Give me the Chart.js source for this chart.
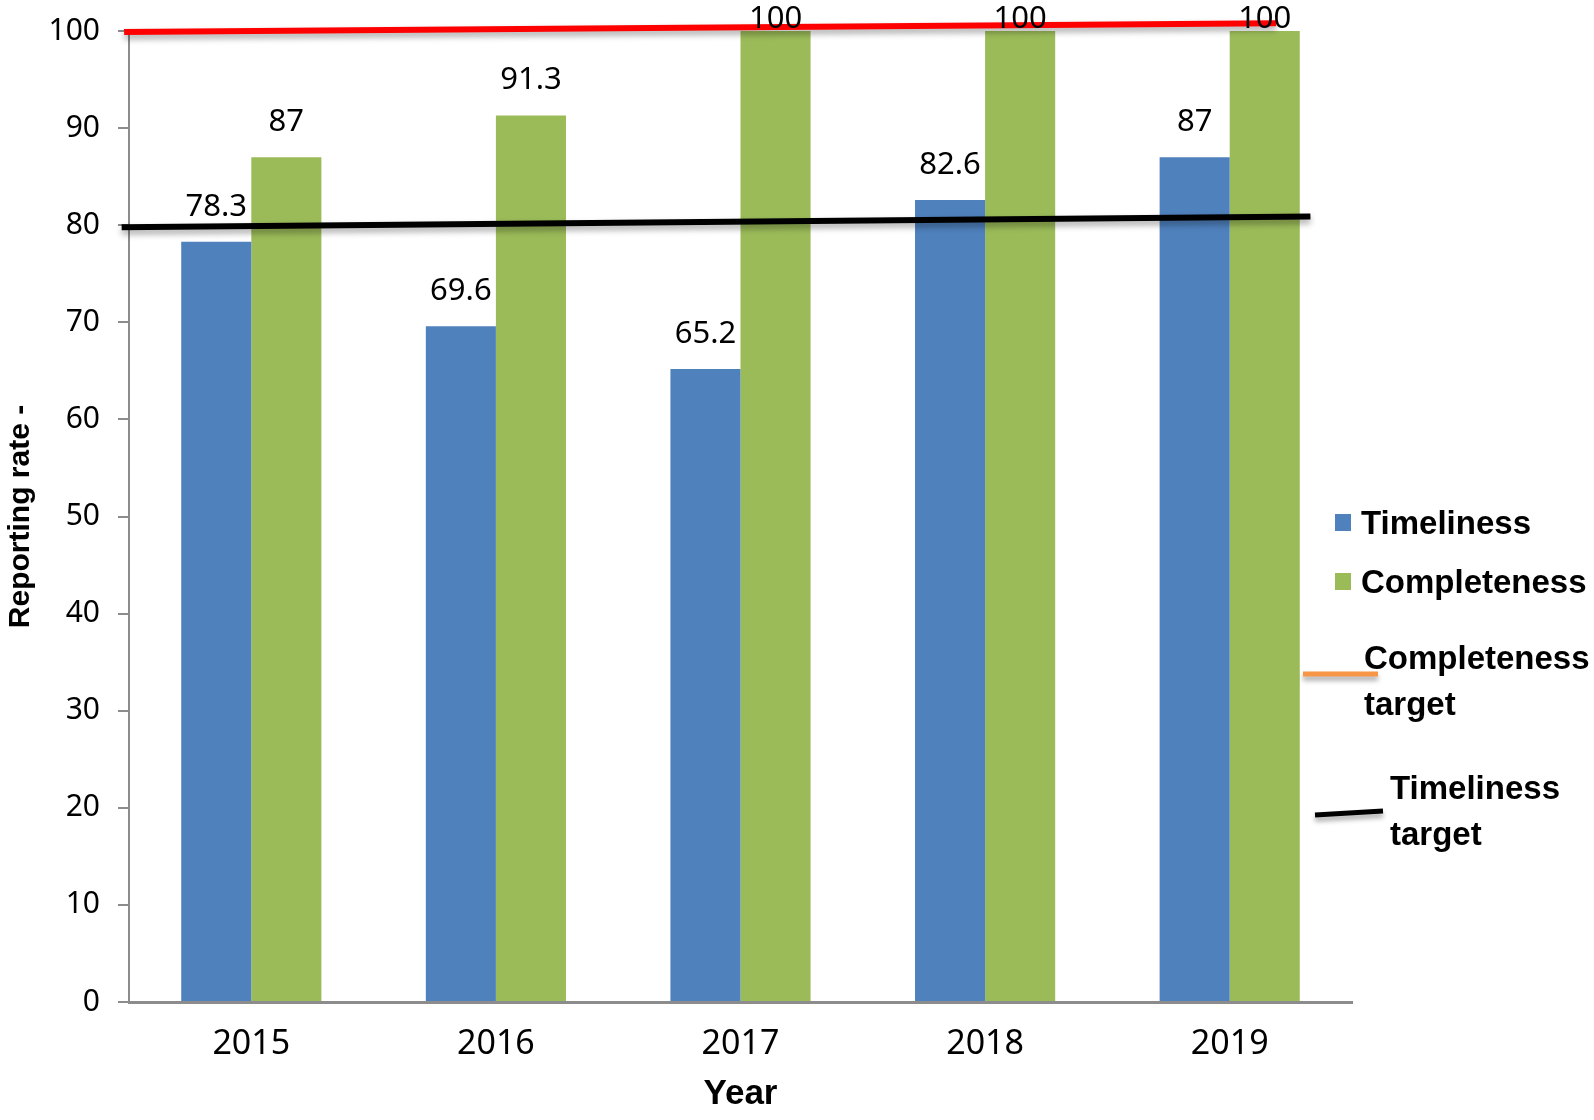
<!DOCTYPE html>
<html>
<head>
<meta charset="utf-8">
<script src="https://cdn.jsdelivr.net/npm/chart.js@4/dist/chart.umd.min.js"></script>
<style>
  html, body { margin: 0; padding: 0; background: #fff; }
  canvas { display: block; }
</style>
</head>
<body>
<canvas id="chart" width="1594" height="1120"></canvas>
<script>
// datos
const years = ['2015', '2016', '2017', '2018', '2019'];
const timeliness = [78.3, 69.6, 65.2, 82.6, 87];
const completeness = [87, 91.3, 100, 100, 100];
// líneas de meta dibujadas a mano (x en índice de año)
const completenessTarget = [{ x: -0.52, y: 99.9 }, { x: 4.19, y: 100.8 }];
const timelinessTarget = [{ x: -0.53, y: 79.8 }, { x: 4.33, y: 80.9 }];
const yTickValues = [0, 10, 20, 30, 40, 50, 60, 70, 80, 90, 100];

const numFont = '"Noto Sans", "Open Sans", sans-serif';
const boldFont = '"Liberation Sans", Arial, sans-serif';

// cada barra en la posición de su año
const toPoints = values => values.map((v, i) => ({ x: i, y: v }));

// etiquetas de valor encima de las barras
const valueLabels = {
  id: 'valueLabels',
  afterDatasetsDraw(chart) {
    const ctx = chart.ctx;
    ctx.save();
    ctx.font = '31px ' + numFont;
    ctx.fillStyle = '#000';
    ctx.textAlign = 'center';
    ctx.textBaseline = 'middle';
    chart.data.datasets.forEach((ds, i) => {
      if (ds.type === 'line') return;
      chart.getDatasetMeta(i).data.forEach((bar, j) => {
        const y = Math.max(bar.y - 35, 19);
        ctx.fillText(String(ds.data[j].y), bar.x, y);
      });
    });
    ctx.restore();
  }
};

// sombra de las líneas de meta
const lineShadow = {
  id: 'lineShadow',
  beforeDatasetDraw(chart, args) {
    if (args.meta.type !== 'line') return;
    const ctx = chart.ctx;
    ctx.save();
    ctx.shadowColor = 'rgba(0,0,0,0.35)';
    ctx.shadowBlur = 6;
    ctx.shadowOffsetY = 4;
  },
  afterDatasetDraw(chart, args) {
    if (args.meta.type !== 'line') return;
    chart.ctx.restore();
  }
};

// leyenda a la derecha, como en el original
const sideLegend = {
  id: 'sideLegend',
  afterDraw(chart) {
    const ctx = chart.ctx;
    const spots = [
      { box: [1335, 514], text: [1361, 522] },
      { box: [1335, 573], text: [1361, 581] },
      { line: [1303, 674, 1378, 674], text: [1364, 657], gap: 46 },
      { line: [1315, 815, 1383, 811], text: [1390, 787], gap: 46 }
    ];
    ctx.save();
    ctx.font = 'bold 33px ' + boldFont;
    ctx.fillStyle = '#000';
    ctx.textAlign = 'left';
    ctx.textBaseline = 'alphabetic';
    chart.data.datasets.forEach((ds, i) => {
      const s = spots[i];
      if (s.box) {
        ctx.fillStyle = ds.backgroundColor;
        ctx.fillRect(s.box[0], s.box[1], 16, 17);
        ctx.fillStyle = '#000';
        ctx.fillText(ds.label, s.text[0], s.text[1] + 12);
      } else {
        ctx.save();
        ctx.shadowColor = 'rgba(0,0,0,0.35)';
        ctx.shadowBlur = 5;
        ctx.shadowOffsetY = 4;
        ctx.strokeStyle = ds.legendColor;
        ctx.lineWidth = 5;
        ctx.beginPath();
        ctx.moveTo(s.line[0], s.line[1]);
        ctx.lineTo(s.line[2], s.line[3]);
        ctx.stroke();
        ctx.restore();
        const words = ds.label.split(' ');
        ctx.fillText(words[0], s.text[0], s.text[1] + 12);
        ctx.fillText(words[1], s.text[0], s.text[1] + s.gap + 12);
      }
    });
    ctx.restore();
  }
};

const ctx = document.getElementById('chart').getContext('2d');
new Chart(ctx, {
  type: 'bar',
  data: {
    datasets: [
      {
        label: 'Timeliness',
        data: toPoints(timeliness),
        backgroundColor: '#4F81BD',
        order: 2
      },
      {
        label: 'Completeness',
        data: toPoints(completeness),
        backgroundColor: '#9BBB59',
        order: 2
      },
      {
        type: 'line',
        label: 'Completeness target',
        data: completenessTarget,
        borderColor: '#FF0000',
        legendColor: '#F79646',
        borderWidth: 6,
        pointRadius: 0,
        clip: false,
        order: 1
      },
      {
        type: 'line',
        label: 'Timeliness target',
        data: timelinessTarget,
        borderColor: '#000000',
        legendColor: '#000000',
        borderWidth: 6,
        pointRadius: 0,
        clip: false,
        order: 1
      }
    ]
  },
  options: {
    responsive: false,
    animation: false,
    devicePixelRatio: 1,
    layout: { padding: { left: 0, top: 31, right: 242, bottom: 0 } },
    datasets: {
      bar: { barPercentage: 1, categoryPercentage: 0.573 }
    },
    plugins: {
      legend: { display: false },
      tooltip: { enabled: false }
    },
    scales: {
      x: {
        type: 'linear',
        offset: false,
        min: -0.5,
        max: 4.5,
        afterBuildTicks(scale) { scale.ticks = years.map((y, i) => ({ value: i })); },
        grid: { display: false, drawTicks: false },
        border: { display: true, color: '#8C8C8C', width: 3 },
        ticks: {
          color: '#000',
          font: { size: 34, family: numFont },
          padding: 22,
          autoSkip: false,
          maxRotation: 0,
          callback: value => years[value]
        },
        title: {
          display: true,
          text: 'Year',
          color: '#000',
          font: { size: 35, weight: 'bold', family: boldFont },
          padding: { top: 0, bottom: 5 }
        },
        afterFit(scale) {
          scale.height = 118;
          scale.paddingLeft = 0;
          scale.paddingRight = 0;
        }
      },
      y: {
        min: 0,
        max: 100,
        afterBuildTicks(scale) { scale.ticks = yTickValues.map(v => ({ value: v })); },
        grid: { drawOnChartArea: false, drawTicks: true, tickLength: 11, color: '#8C8C8C', lineWidth: 2 },
        border: { display: true, color: '#8C8C8C', width: 2 },
        ticks: { color: '#000', font: { size: 30, family: numFont }, padding: 18 },
        title: {
          display: true,
          text: 'Reporting rate -',
          color: '#000',
          font: { size: 30, weight: 'bold', family: boldFont },
          padding: { top: 3, bottom: 0 }
        },
        afterFit(scale) {
          scale.width = 129;
          scale.paddingTop = 0;
          scale.paddingBottom = 0;
        }
      }
    }
  },
  plugins: [lineShadow, valueLabels, sideLegend]
});
</script>
</body>
</html>
